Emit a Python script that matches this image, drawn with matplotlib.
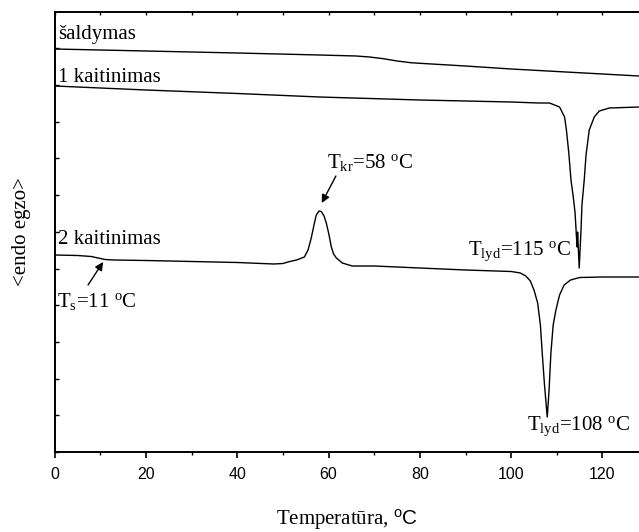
import matplotlib
matplotlib.use("Agg")
import matplotlib.pyplot as plt
from matplotlib.ticker import MultipleLocator

plt.rcParams['font.family'] = ['Liberation Serif', 'DejaVu Serif']
plt.rcParams['mathtext.fontset'] = 'custom'
plt.rcParams['mathtext.rm'] = 'Liberation Serif'
plt.rcParams['mathtext.it'] = 'Liberation Serif:italic'
plt.rcParams['mathtext.sf'] = 'Liberation Sans'

# DSC traces, temperature in degC and heat flow in arbitrary units (endo down)
cool_t = [0, 20, 40, 58, 66, 69, 72, 75, 78, 80, 90, 100, 110, 120, 128]
cool_y = [403, 401, 399, 397, 396, 395, 393.3, 391, 389.3, 388.7, 386, 383, 380.5, 378, 376]

heat1_t = [0, 20, 40, 58, 80, 100, 106, 108.4, 110.6, 111.7, 112.1, 112.6, 113.1,
           113.6, 114.0, 114.3, 114.45, 114.55, 114.9, 115.3, 115.5, 116.0, 116.4,
           117.1, 118.2, 119.3, 121.5, 128]
heat1_y = [366, 362, 358.5, 355, 352, 350, 349, 349, 345, 335, 322, 300, 272,
           255, 239, 215, 205, 220, 184, 222, 247, 272, 297,
           322, 335, 341, 344, 345]

heat2_t = [0, 5, 8, 9.5, 11, 13, 20, 30, 40, 48, 50, 51.5, 53, 54.7, 55.5, 56.2,
           56.8, 57.3, 57.9, 58.4, 59.0, 59.5, 60.1, 60.6, 61.1, 61.7, 63.0, 65.2,
           70, 80, 90, 100, 102, 103.2, 104.2, 105.0, 105.8, 106.4, 106.8, 107.3,
           107.9, 108.3, 108.7, 109.2, 109.8, 110.6, 111.6, 113, 115, 120, 128]
heat2_y = [197, 196.5, 195.5, 194, 192.5, 192, 191.5, 190.5, 189.5, 188, 188.5, 190.5,
           192, 195, 202, 214, 227, 237, 241, 240.5, 236, 229, 217, 205, 198, 194,
           189, 186, 186, 184, 182, 180.5, 179, 176, 171, 162, 149, 127, 99, 67,
           35, 62, 99, 127, 142, 157, 167, 172, 174.5, 175, 175]

xticks = [0, 20, 40, 60, 80, 100, 120]

fig = plt.figure(figsize=(6.39, 5.32), dpi=100)
ax = fig.add_axes([54.7 / 639, 1 - 452 / 532, 1 - 54.7 / 639, 440 / 532])

for t, y in [(cool_t, cool_y), (heat1_t, heat1_y), (heat2_t, heat2_y)]:
    ax.plot(t, y, color='black', lw=1.0, solid_joinstyle='round')

ax.set_xlim(0, 128)
ax.set_ylim(0, 440)

for side in ['left', 'bottom', 'top']:
    ax.spines[side].set_linewidth(1.4)
ax.spines['right'].set_visible(False)

ax.set_xticks(xticks)
ax.xaxis.set_minor_locator(MultipleLocator(10))
ax.tick_params(axis='x', which='major', direction='out', length=4, width=1.2,
               labelsize=11.5, pad=7)
ax.tick_params(axis='x', which='minor', direction='out', length=2.5, width=1.0)
ax.tick_params(axis='x', which='both', top=False)
for lab in ax.get_xticklabels():
    lab.set_family('Liberation Sans')

ax.yaxis.set_major_locator(MultipleLocator(36.7))
ax.tick_params(axis='y', which='major', direction='in', length=3, width=1.0,
               labelleft=False)

# inward marks along the top spine
sec = ax.secondary_xaxis('top')
sec.set_xticks(list(range(0, 130, 10)))
sec.tick_params(direction='in', length=2.5, width=1.0, labeltop=False)
sec.spines['top'].set_visible(False)

ax.set_xlabel(r"Temperatūra, $^{\mathsf{o}}\mathsf{C}$", fontsize=15, labelpad=18)
ax.set_ylabel("<endo egzo>", fontsize=15, labelpad=17)

fs = 15
ax.text(0.8, 413, "šaldymas", fontsize=fs, va='baseline')
ax.text(0.8, 370, "1 kaitinimas", fontsize=fs, va='baseline')
ax.text(0.8, 208, "2 kaitinimas", fontsize=fs, va='baseline')
ax.text(0.6, 145, r"T$_{\mathrm{s}}$=11 $^{\mathrm{o}}$C", fontsize=fs, va='baseline')
ax.text(59.6, 284, r"T$_{\mathrm{kr}}$=58 $^{\mathrm{o}}$C", fontsize=fs, va='baseline')
ax.text(90.5, 197, r"T$_{\mathrm{lyd}}$=115 $^{\mathrm{o}}$C", fontsize=fs, va='baseline')
ax.text(103.5, 22, r"T$_{\mathrm{lyd}}$=108 $^{\mathrm{o}}$C", fontsize=fs, va='baseline')

arrow = dict(arrowstyle='-|>', color='black', lw=1.0, mutation_scale=12,
             shrinkA=0, shrinkB=0)
ax.annotate("", xy=(58.5, 249), xytext=(61.6, 276), arrowprops=arrow)
ax.annotate("", xy=(10.6, 190), xytext=(7.3, 167), arrowprops=arrow)

fig.savefig("out.png", dpi=100)
